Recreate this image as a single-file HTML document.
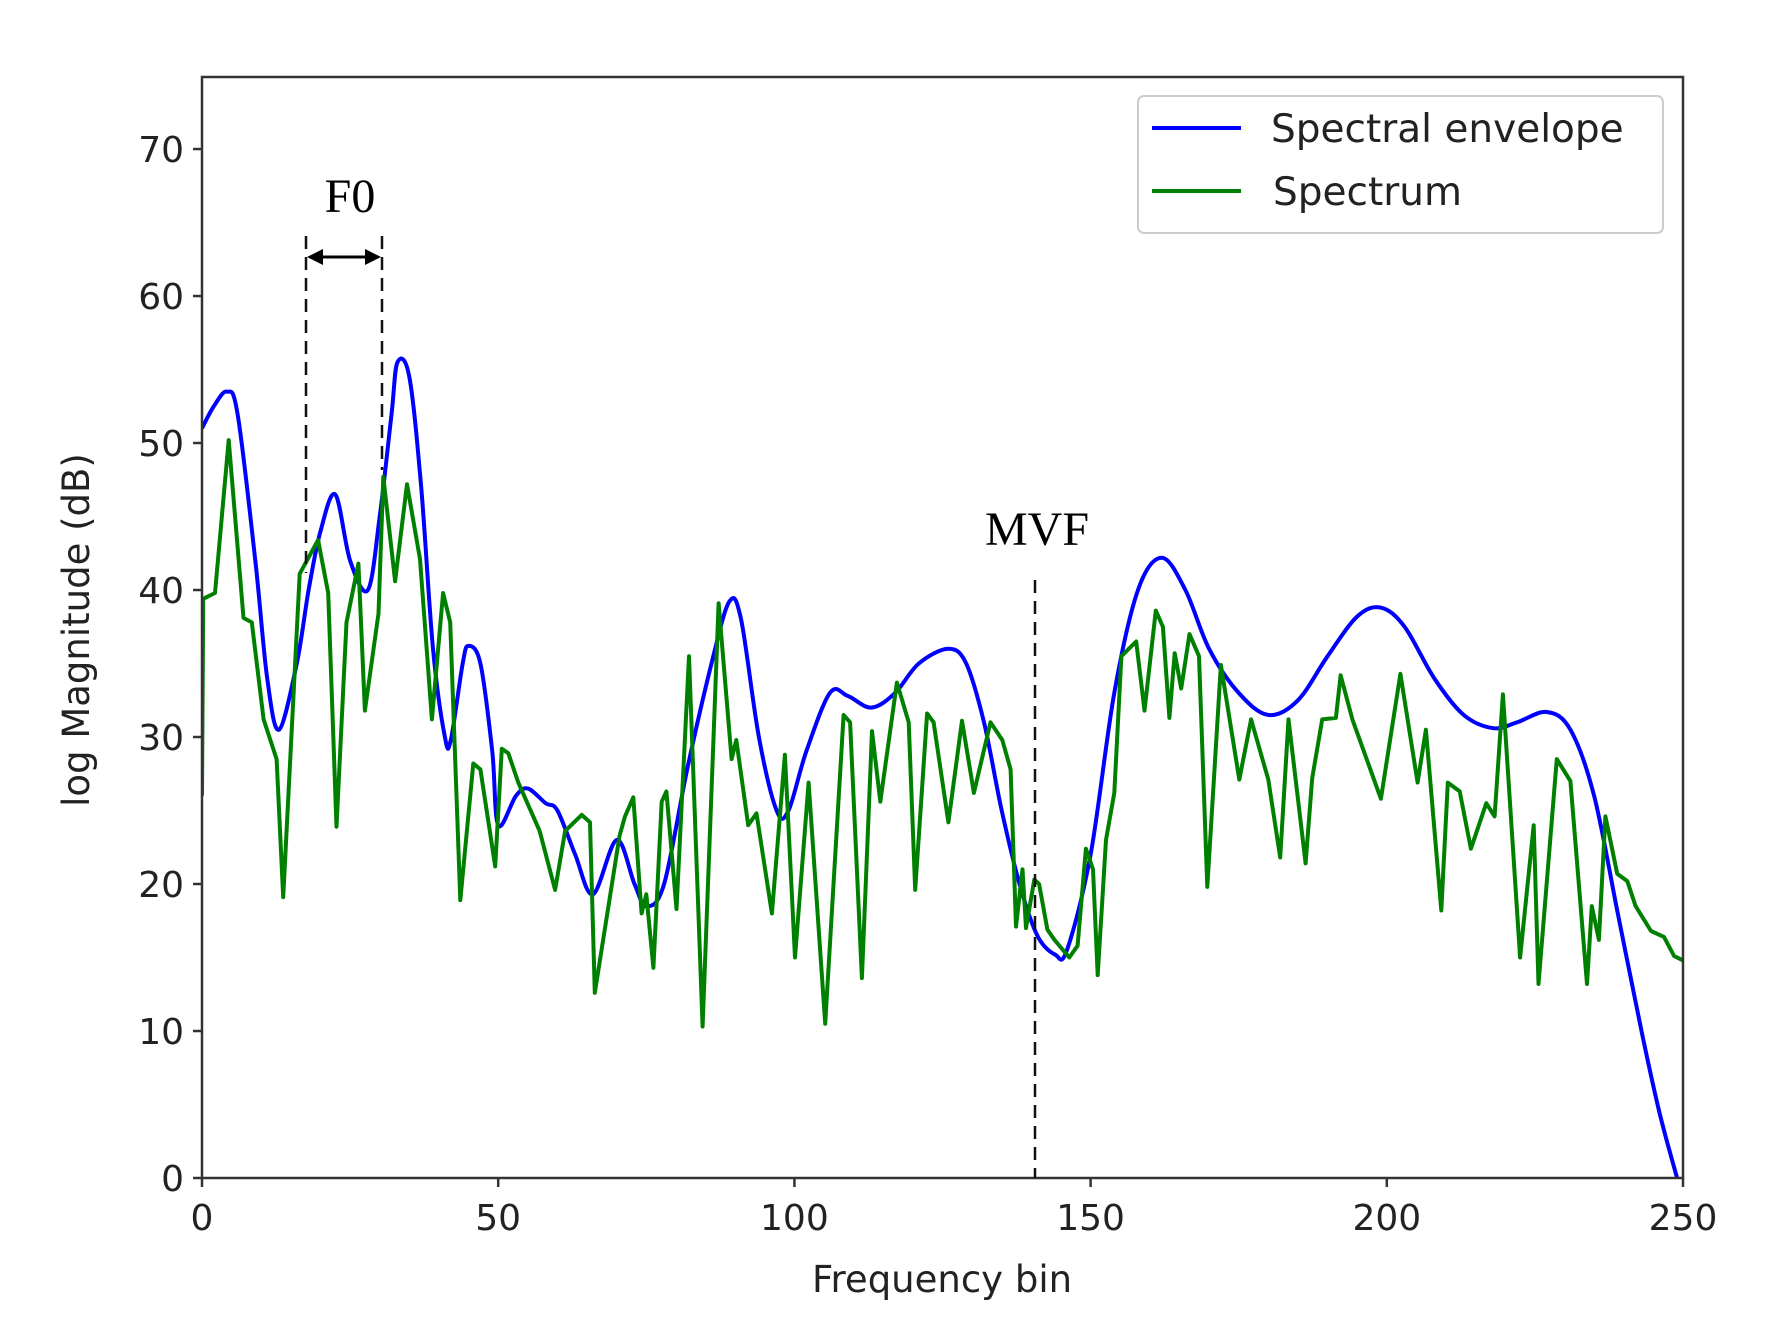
<!DOCTYPE html>
<html><head><meta charset="utf-8"><style>
html,body{margin:0;padding:0;background:#fff;}
svg{display:block;}
</style></head><body>
<svg id="chart" width="1771" height="1341" viewBox="0 0 1771 1341" xmlns="http://www.w3.org/2000/svg">
<rect x="0" y="0" width="1771" height="1341" fill="#fff"/>
<g id="plot"></g>
</svg>
<script>
const xTicks=[0,50,100,150,200,250];
const yTicks=[0,10,20,30,40,50,60,70];
const envX=[0,2,4.2,6,9,11,13,16,18,20,22.5,25,28,30,32,33,35,37,39,41,42,44,45,47,49,50,53,55,58,60,63,66,70,73,75,78,82,86,89,91,94,97,99,102,106,109,113,117,121,126,129,132,135,138,141,144,146,150,154,158,162,166,170,175,180,185,190,195,199,203,208,213,218,222,227,231,235,239,243,246,249];
const envDb=[51,52.5,53.5,52,42,34,30.5,35,40,44,46.5,42,40,45,52,55.5,54.5,47,36,30,29.8,35,36.2,35,29,24,26,26.5,25.5,25,22,19.3,23,20,18.5,20,28,35,39.2,38,30,25,25,29,33,32.8,32,33,35,36,35,31,25,20,16.5,15.2,15.5,22,33,40,42.2,40,36,33,31.5,32.5,35.5,38.2,38.8,37.5,34,31.5,30.6,31,31.7,30.5,26,18,10,4.5,0];
const specX=[0,0.2,2.2,4.5,7,8.4,10.4,12.6,13.7,16.5,19.6,21.3,22.7,24.4,26.4,27.5,29.8,30.6,32.6,34.6,36.8,38.8,40.7,41.9,43.6,45.8,47,49.5,50.6,51.7,53.4,57,59.6,61.3,64.1,65.5,66.3,70.5,71.4,72.8,74.2,75,76.2,77.6,78.4,80.1,82.2,84.5,87.2,89.4,90.2,92.2,93.6,96.2,98.4,100.1,102.4,105.2,108.3,109.4,111.4,113.1,114.5,117.3,119.3,120.4,122.4,123.5,126,128.3,130.3,133.1,135.1,136.5,137.4,138.5,139.1,140.5,141.3,142.7,143.9,146.4,147.8,149.2,150.4,151.2,152.6,154,155.2,157.7,159.1,161,162.2,163.3,164.2,165.3,166.7,168.3,169.7,172,175.1,177.1,180,182,183.4,186.3,187.4,189.1,191.4,192.2,194.2,199,202.3,205.2,206.6,209.2,210.3,212.3,214.2,216.8,218.2,219.6,222.5,224.8,225.6,228.7,231,233.8,234.6,235.8,236.9,238.9,240.6,242,244.6,246.8,248.5,250];
const specDb=[26,39.4,39.8,50.2,38.1,37.8,31.2,28.5,19.1,41.1,43.4,39.8,23.9,37.8,41.8,31.8,38.4,47.7,40.6,47.2,42.1,31.2,39.8,37.8,18.9,28.2,27.8,21.2,29.2,28.9,26.9,23.6,19.6,23.6,24.7,24.2,12.6,23.3,24.6,25.9,18,19.3,14.3,25.6,26.3,18.3,35.5,10.3,39.1,28.5,29.8,24,24.8,18,28.8,15,26.9,10.5,31.5,31,13.6,30.4,25.6,33.7,31,19.6,31.6,31,24.2,31.1,26.2,31,29.8,27.8,17.1,21,17,20.3,20,16.9,16.2,15,15.8,22.4,21,13.8,23,26.2,35.5,36.5,31.8,38.6,37.5,31.3,35.7,33.3,37,35.5,19.8,34.9,27.1,31.2,27.1,21.8,31.2,21.4,27.2,31.2,31.3,34.2,31.2,25.8,34.3,26.9,30.5,18.2,26.9,26.3,22.4,25.5,24.6,32.9,15,24,13.2,28.5,27,13.2,18.5,16.2,24.6,20.7,20.2,18.5,16.8,16.4,15.1,14.8];

const X0=202,X1=1683,Y0=1178,Y1=77,XMAX=250,YMAX=74.9;
const sx=v=>X0+(X1-X0)*v/XMAX;
const sy=v=>Y0-(Y0-Y1)*v/YMAX;
const NS='http://www.w3.org/2000/svg';
const plot=document.getElementById('plot');
function mk(tag,attrs,parent){const e=document.createElementNS(NS,tag);for(const k in attrs)e.setAttribute(k,attrs[k]);(parent||plot).appendChild(e);return e;}
function smoothPath(xs,ys){
  const p=xs.map((x,i)=>[sx(x),sy(ys[i])]);
  let d='M'+p[0][0].toFixed(1)+','+p[0][1].toFixed(1);
  for(let i=0;i<p.length-1;i++){
    const a=p[Math.max(0,i-1)],b=p[i],c=p[i+1],e=p[Math.min(p.length-1,i+2)];
    const c1=[b[0]+(c[0]-a[0])/6,b[1]+(c[1]-a[1])/6];
    const c2=[c[0]-(e[0]-b[0])/6,c[1]-(e[1]-b[1])/6];
    d+='C'+c1[0].toFixed(1)+','+c1[1].toFixed(1)+' '+c2[0].toFixed(1)+','+c2[1].toFixed(1)+' '+c[0].toFixed(1)+','+c[1].toFixed(1);
  }
  return d;
}

const clip=mk('clipPath',{id:'clipArea'});
mk('rect',{x:X0,y:Y1,width:X1-X0,height:Y0-Y1},clip);

const env=mk('path',{d:smoothPath(envX,envDb),fill:'none',stroke:'#0000ff','stroke-width':4,'stroke-linejoin':'round','clip-path':'url(#clipArea)'});


const spec=mk('path',{d:specX.map((x,i)=>(i?'L':'M')+sx(x).toFixed(1)+','+sy(specDb[i]).toFixed(1)).join(''),fill:'none',stroke:'#008000','stroke-width':4,'stroke-linejoin':'round','clip-path':'url(#clipArea)'});



const frame=mk('rect',{x:X0,y:Y1,width:X1-X0,height:Y0-Y1,fill:'none',stroke:'#333','stroke-width':2.5});



const ff='"DejaVu Sans", "Liberation Sans", sans-serif';
xTicks.forEach(t=>{
  const tk=mk('line',{x1:sx(t),x2:sx(t),y1:Y0,y2:Y0+9,stroke:'#333','stroke-width':2.5});
  
  
  const lb=mk('text',{x:sx(t),y:Y0+52,'text-anchor':'middle','font-family':ff,'font-size':36,fill:'#222'});
  lb.textContent=t;
  
  
});
yTicks.forEach(t=>{
  const tk=mk('line',{x1:X0-9,x2:X0,y1:sy(t),y2:sy(t),stroke:'#333','stroke-width':2.5});
  
  
  const lb=mk('text',{x:X0-18,y:sy(t)+13,'text-anchor':'end','font-family':ff,'font-size':36,fill:'#222'});
  lb.textContent=t;
  
  
});
const xl=mk('text',{x:942,y:1292,'text-anchor':'middle','font-family':ff,'font-size':37,fill:'#222'});
xl.textContent='Frequency bin';


const yl=mk('text',{x:0,y:0,'text-anchor':'middle','font-family':ff,'font-size':37,fill:'#222',transform:'translate(89,630) rotate(-90)'});
yl.textContent='log Magnitude (dB)';



const sf='"Liberation Serif", "DejaVu Serif", serif';
const f0l=mk('line',{x1:306,x2:306,y1:236,y2:573,stroke:'#111','stroke-width':2.5,'stroke-dasharray':'13,8'});


const f0r=mk('line',{x1:382,x2:382,y1:236,y2:470,stroke:'#111','stroke-width':2.5,'stroke-dasharray':'13,8'});


const arr=mk('g',{});


mk('line',{x1:318,x2:370,y1:257,y2:257,stroke:'#000','stroke-width':3},arr);
mk('path',{d:'M307,257 L323,249 L323,265 Z',fill:'#000'},arr);
mk('path',{d:'M381,257 L365,249 L365,265 Z',fill:'#000'},arr);
const f0t=mk('text',{x:350,y:212,'text-anchor':'middle','font-family':sf,'font-size':48,fill:'#000'});
f0t.textContent='F0';


const mvl=mk('line',{x1:1035,x2:1035,y1:580,y2:1178,stroke:'#111','stroke-width':2.5,'stroke-dasharray':'13,8'});


const mvt=mk('text',{x:1037,y:545,'text-anchor':'middle','font-family':sf,'font-size':48,fill:'#000'});
mvt.textContent='MVF';



const lg=mk('g',{});


mk('rect',{x:1138,y:96,width:525,height:137,rx:6,fill:'#fff',stroke:'#ccc','stroke-width':2},lg);
const e1=mk('line',{x1:1152,x2:1241,y1:128,y2:128,stroke:'#0000ff','stroke-width':4},lg);


const t1=mk('text',{x:1271,y:142,'font-family':ff,'font-size':39,fill:'#222'},lg);
t1.textContent='Spectral envelope';


const e2=mk('line',{x1:1152,x2:1241,y1:191,y2:191,stroke:'#008000','stroke-width':4},lg);


const t2=mk('text',{x:1273,y:205,'font-family':ff,'font-size':39,fill:'#222'},lg);
t2.textContent='Spectrum';


</script>
</body></html>
